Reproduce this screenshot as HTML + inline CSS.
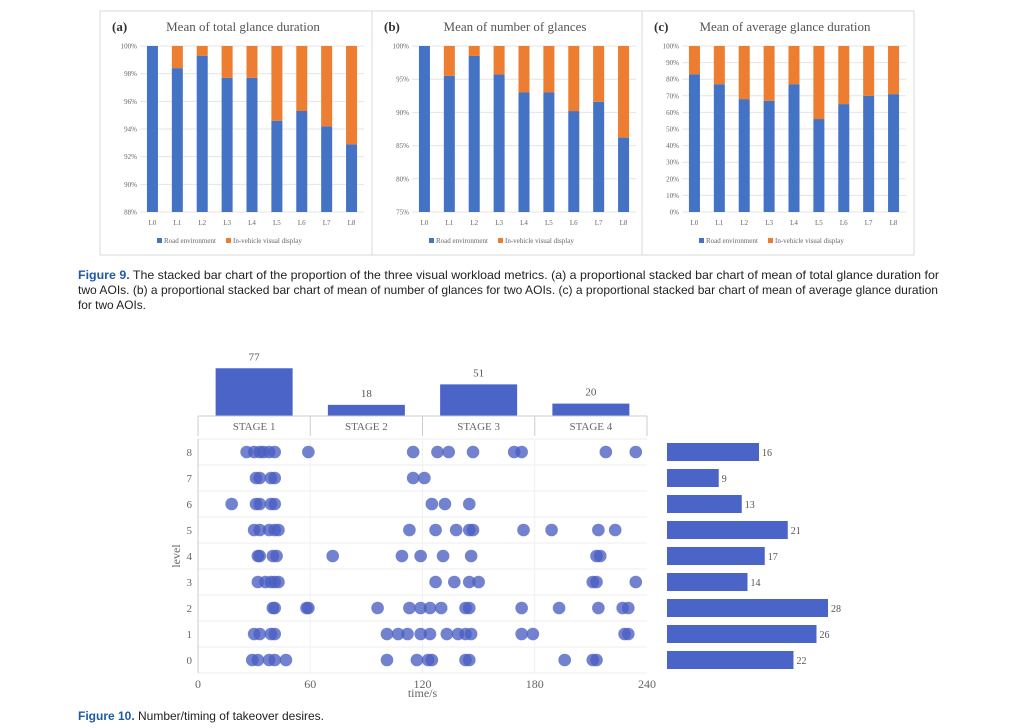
<!DOCTYPE html>
<html><head><meta charset="utf-8"><style>
body{margin:0;background:#fff;width:1010px;height:728px;overflow:hidden}
svg{display:block}
.cap{font-family:"Liberation Sans",sans-serif;font-size:12px;fill:#222}
.ser{font-family:"Liberation Serif",serif}
</style></head><body>
<svg id="s" width="1010" height="728">
<text class="cap" x="78" y="279" textLength="861" lengthAdjust="spacingAndGlyphs"><tspan font-weight="bold" fill="#1f5aa6">Figure 9.</tspan> The stacked bar chart of the proportion of the three visual workload metrics. (a) a proportional stacked bar chart of mean of total glance duration for</text>
<text class="cap" x="78" y="294" textLength="860" lengthAdjust="spacingAndGlyphs">two AOIs. (b) a proportional stacked bar chart of mean of number of glances for two AOIs. (c) a proportional stacked bar chart of mean of average glance duration</text>
<text class="cap" x="78" y="309" textLength="68" lengthAdjust="spacingAndGlyphs">for two AOIs.</text>
<text class="cap" x="78" y="720" textLength="246" lengthAdjust="spacingAndGlyphs"><tspan font-weight="bold" fill="#1f5aa6">Figure 10.</tspan> Number/timing of takeover desires.</text>
</svg>
<script>
const NS="http://www.w3.org/2000/svg";
const svg=document.getElementById('s');
function mk(t,a,txt,p){const e=document.createElementNS(NS,t);for(const k in a)e.setAttribute(k,a[k]);if(txt!==undefined)e.textContent=txt;(p||svg).appendChild(e);return e;}

// Figure 9 data
const levels=["L0","L1","L2","L3","L4","L5","L6","L7","L8"];
const roadA=[100,98.4,99.3,97.7,97.7,94.6,95.3,94.2,92.9];
const roadB=[100,95.5,98.5,95.7,93,93,90.2,91.6,86.2];
const roadC=[83,77,68,67,77,56,65,70,71];
const ticksA=[88,90,92,94,96,98,100];
const ticksB=[75,80,85,90,95,100];
const ticksC=[0,10,20,30,40,50,60,70,80,90,100];

const panels=[
 {x0:100,letter:"(a)",title:"Mean of total glance duration",road:roadA,ticks:ticksA,min:88,max:100,leg:"In-vehicle visual display",roadLeg:"Road environment"},
 {x0:372,letter:"(b)",title:"Mean of number of glances",road:roadB,ticks:ticksB,min:75,max:100,leg:"In-vehicle visual display",roadLeg:"Road environment"},
 {x0:642,letter:"(c)",title:"Mean of average glance duration",road:roadC,ticks:ticksC,min:0,max:100,leg:"In-vehicle visual display",roadLeg:"Road environment"}
];
panels.forEach((P,pi)=>{
 const g=mk('g',{});
 
 
 mk('rect',{x:P.x0,y:11,width:272,height:244,fill:'#fff',stroke:'#d9d9d9'},undefined,g);
 const l=mk('text',{x:P.x0+12,y:31,'font-size':13,'font-weight':'bold',class:'ser',fill:'#333'},P.letter,g);
 
 
 const t=mk('text',{x:P.x0+143,y:31,'font-size':13,class:'ser',fill:'#555','text-anchor':'middle'},P.title,g);
 
 
 const left=P.x0+40,right=P.x0+264,top=46,bot=212;
 const yS=v=>bot-(v-P.min)/(P.max-P.min)*(bot-top);
 P.ticks.forEach(v=>{
  mk('line',{x1:left,x2:right,y1:yS(v),y2:yS(v),stroke:'#e4e4e4'},undefined,g);
  const tl=mk('text',{x:left-3,y:yS(v)+2.5,'font-size':7,class:'ser',fill:'#666','text-anchor':'end'},v+'%',g);
  
  
 });
 const step=(right-left)/levels.length;
 levels.forEach((lv,i)=>{
  const cx=left+step*(i+0.5);
  const b=mk('rect',{x:cx-5.5,y:yS(P.road[i]),width:11,height:bot-yS(P.road[i]),fill:'#4472c4'},undefined,g);
  
  
  const o=mk('rect',{x:cx-5.5,y:yS(100),width:11,height:yS(P.road[i])-yS(100),fill:'#ed7d31'},undefined,g);
  
  
  const xl=mk('text',{x:cx,y:225,'font-size':7,class:'ser',fill:'#666','text-anchor':'middle'},lv,g);
  
  
 });
 const lx=P.x0+57;
 mk('rect',{x:lx,y:238,width:5,height:5,fill:'#4472c4'},undefined,g);
 const r1=mk('text',{x:lx+7,y:243,'font-size':7,class:'ser',fill:'#666'},P.roadLeg,g);
 
 
 mk('rect',{x:lx+69,y:238,width:5,height:5,fill:'#ed7d31'},undefined,g);
 const r2=mk('text',{x:lx+76,y:243,'font-size':7,class:'ser',fill:'#666'},P.leg,g);
 
 
});

// Figure 10 data
const stages=["STAGE 1","STAGE 2","STAGE 3","STAGE 4"];
const stageCounts=[77,18,51,20];
const levelCounts=[22,26,28,14,17,21,13,9,16];
const xTicks=[0,60,120,180,240];
const lvlTicks=[0,1,2,3,4,5,6,7,8];
const times=[
 [29,32,38,41,47,101,117,123,125,143,145,196,211,213],
 [30,33,39,41,101,107,112,119,124,133,139,143,146,173,179,228,230],
 [40,41,58,59,96,113,119,124,130,143,145,173,193,214,227,230],
 [32,36,39,41,43,127,137,145,150,211,213,234],
 [32,33,40,42,72,109,119,131,146,213,215],
 [30,33,38,41,43,113,127,138,145,147,174,189,214,223],
 [18,31,33,39,41,125,132,145],
 [31,33,39,41,115,121],
 [26,30,33,35,38,41,59,115,128,134,147,169,173,218,234]
];
const X0=198,X1=647;
const xS=v=>X0+v/240*(X1-X0);
const yL=l=>660-l*26;
const sBase=416,sScale=0.62;
const stageStep=(X1-X0)/4;
stages.forEach((s,i)=>{
 const cx=X0+stageStep*(i+0.5);
 const h=stageCounts[i]*sScale;
 const r=mk('rect',{x:cx-38.5,y:sBase-h,width:77,height:h,fill:'#4a64c8'});
 
 
 const v=mk('text',{x:cx,y:sBase-h-8,'font-size':11,class:'ser',fill:'#555','text-anchor':'middle'},stageCounts[i]);
 
 
 const sl=mk('text',{x:cx,y:430,'font-size':11,class:'ser',fill:'#666','text-anchor':'middle'},s);
 
 
 if(i>0)mk('line',{x1:X0+stageStep*i,x2:X0+stageStep*i,y1:416,y2:436,stroke:'#ccc'});
});
mk('line',{x1:X0,x2:X1,y1:sBase,y2:sBase,stroke:'#ccc'});
mk('line',{x1:X0,x2:X0,y1:416,y2:436,stroke:'#ccc'});
mk('line',{x1:X1,x2:X1,y1:416,y2:436,stroke:'#ccc'});
lvlTicks.forEach(l=>{
 mk('line',{x1:X0,x2:X1,y1:yL(l)+13,y2:yL(l)+13,stroke:'#eee'});
 const t=mk('text',{x:192,y:yL(l)+4,'font-size':11,class:'ser',fill:'#666','text-anchor':'end'},l);
 
 
});
mk('line',{x1:X0,x2:X1,y1:439,y2:439,stroke:'#eee'});
xTicks.forEach(v=>{
 if(v>0&&v<240)mk('line',{x1:xS(v),x2:xS(v),y1:439,y2:673,stroke:'#f0f0f0'});
 const t=mk('text',{x:xS(v),y:688,'font-size':12,class:'ser',fill:'#666','text-anchor':'middle'},v);
 
 
});
mk('line',{x1:X0,x2:X0,y1:439,y2:673,stroke:'#ccc'});
const xt=mk('text',{x:xS(120),y:697,'font-size':12,class:'ser',fill:'#666','text-anchor':'middle'},'time/s');


const yt=mk('text',{x:180,y:556,'font-size':12,class:'ser',fill:'#666','text-anchor':'middle',transform:'rotate(-90 180 556)'},'level');


times.forEach((arr,l)=>{
 arr.forEach(t=>{
  const c=mk('circle',{cx:xS(t),cy:yL(l),r:6.3,fill:'#4a5fc1','fill-opacity':0.78});
  
  
 });
});
levelCounts.forEach((n,l)=>{
 const w=n*5.75;
 const r=mk('rect',{x:667,y:yL(l)-9,width:w,height:18,fill:'#4a64c8'});
 
 
 const t=mk('text',{x:667+w+3,y:yL(l)+4,'font-size':10,class:'ser',fill:'#555'},n);
 
 
});
</script>
</body></html>
